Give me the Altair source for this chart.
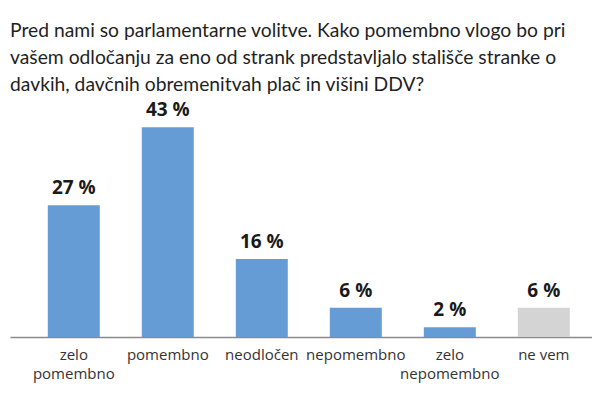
import altair as alt
import pandas as pd

categories = ["zelo pomembno", "pomembno", "neodločen", "nepomembno", "zelo nepomembno", "ne vem"]
values = [27, 43, 16, 6, 2, 6]
groups = ["a", "a", "a", "a", "a", "b"]
title_lines = [
    "Pred nami so parlamentarne volitve. Kako pomembno vlogo bo pri",
    "vašem odločanju za eno od strank predstavljalo stališče stranke o",
    "davkih, davčnih obremenitvah plač in višini DDV?",
]

df = pd.DataFrame({"cat": categories, "val": values, "grp": groups})
df["lbl"] = [f"{v} %" for v in values]

FONT = "Open Sans"

x = alt.X(
    "cat:N",
    sort=categories,
    scale=alt.Scale(paddingInner=0.447, paddingOuter=0.319, align=0.63),
    axis=alt.Axis(
        title=None,
        labelAngle=0,
        ticks=False,
        domainColor="#8a8a8a",
        domainWidth=1.5,
        labelPadding=10,
        labelFontSize=15,
        labelColor="#333333",
        labelFont=FONT,
        labelLineHeight=19,
        labelBaseline="top",
        labelExpr="indexof(datum.value, 'zelo') == 0 ? split(datum.value, ' ') : datum.value",
    ),
)
y = alt.Y("val:Q", scale=alt.Scale(domain=[0, 49], nice=False, zero=True), axis=None)

bars = alt.Chart(df).mark_bar().encode(
    x=x,
    y=y,
    color=alt.Color("grp:N", scale=alt.Scale(domain=["a", "b"], range=["#659cd6", "#d4d4d4"]), legend=None),
)
labels = alt.Chart(df).mark_text(
    baseline="bottom", dy=-7, fontSize=19, fontWeight="bold", font=FONT, color="#1a1a1a"
).encode(x=x, y=y, text="lbl:N")

chart = (
    alt.layer(bars, labels)
    .properties(
        width=582,
        height=239,
        autosize=alt.AutoSizeParams(type="none"),
        padding={"left": 2, "top": 90, "right": 0, "bottom": 50},
        title=alt.Title(
            text=title_lines,
            anchor="start",
            font="Lato",
            fontSize=19.3,
            fontWeight="normal",
            color="#1f1f1f",
            lineHeight=27,
            offset=3,
        ),
    )
    .configure_view(stroke=None)
)

chart.save("out.html", embed_options={"renderer": "svg", "actions": False})
